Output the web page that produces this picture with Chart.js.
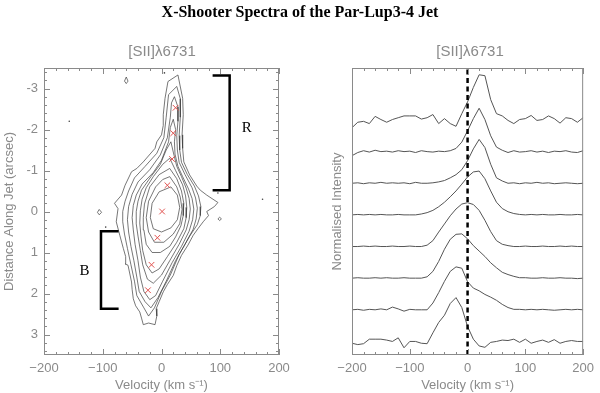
<!DOCTYPE html>
<html>
<head>
<meta charset="utf-8">
<script src="https://cdn.jsdelivr.net/npm/chart.js@4.4.1/dist/chart.umd.min.js"></script>
<style>
  body { margin: 0; background: #fff; }
  #page { position: relative; width: 600px; height: 393px; overflow: hidden; }
  .panel { position: absolute; top: 0; width: 300px; height: 393px; }
  #main-title { position: absolute; left: 0; top: 3px; width: 600px; text-align: center;
    font: bold 16px "Liberation Serif", "DejaVu Serif", serif; color: #000; }
  .sub { position: absolute; top: 42px; width: 200px; text-align: center;
    font: 15px "Liberation Sans", Arial, sans-serif; color: #8a8a8a; }
</style>
</head>
<body>
<div id="page">
  <div class="panel" style="left:0"><canvas id="contourChart"></canvas></div>
  <div class="panel" style="left:300px"><canvas id="spectraChart"></canvas></div>
  <div id="main-title">X-Shooter Spectra of the Par-Lup3-4 Jet</div>
  <div class="sub" style="left:62px">[SII]λ6731</div>
  <div class="sub" style="left:370px">[SII]λ6731</div>
</div>
<script>
'use strict';

// ---- data ----
const velTicks  = [-200, -100, 0, 100, 200];
const distTicks = [-3, -2, -1, 0, 1, 2, 3];

// knot positions (red crosses)
const knotVel  = [24, 20, 18, 10, 1, -7, -17, -23];
const knotDist = [-2.53, -1.91, -1.28, -0.64, 0.0, 0.64, 1.30, 1.92];

// contour levels, outermost first: [velocity, distance]
const contour9 = [[28,-3.33],[36,-2.76],[37,-2.36],[35,-1.87],[36,-1.54],[38,-1.21],[48,-0.89],[60,-0.62],
  [66,-0.52],[77,-0.40],[96,-0.22],[90,-0.12],[77,0.0],[80,0.1],[71,0.25],[62,0.42],[54,0.58],[45,0.82],
  [34,1.07],[26,1.32],[20,1.56],[10,1.78],[3,1.96],[-4,2.2],[-9,2.37],[-8,2.55],[-11,2.76],[-22,2.72],
  [-31,2.76],[-34,2.6],[-37,2.45],[-44,2.3],[-48,2.13],[-50,1.9],[-51,1.72],[-57,1.31],[-62,1.28],
  [-61,1.1],[-65,0.90],[-71,0.58],[-77,0.25],[-74,-0.07],[-80,-0.2],[-68,-0.40],[-62,-0.64],[-51,-0.97],
  [-42,-1.05],[-31,-1.21],[-11,-1.54],[-8,-1.7],[0,-1.87],[3,-2.1],[3,-2.36],[6,-2.76],[11,-3.17]];
const contour8 = [[26,-3.05],[32,-2.75],[32,-2.3],[30,-1.85],[31,-1.5],[34,-1.2],[44,-0.9],[56,-0.62],
  [63,-0.38],[67,-0.12],[66,0.1],[61,0.32],[48,0.6],[30,1.05],[15,1.55],[0,1.95],[-12,2.35],[-22,2.55],
  [-30,2.35],[-42,2.05],[-46,1.7],[-52,1.3],[-58,0.9],[-63,0.55],[-66,0.25],[-66,0.0],[-62,-0.25],
  [-56,-0.5],[-46,-0.82],[-28,-1.1],[-8,-1.42],[4,-1.8],[8,-2.3],[12,-2.85]];
const contour7 = [[22,-2.8],[28,-2.55],[28,-2.2],[26,-1.85],[27,-1.5],[30,-1.2],[40,-0.9],[52,-0.58],
  [58,-0.33],[61,-0.08],[59,0.18],[54,0.43],[40,0.8],[24,1.2],[8,1.7],[-6,2.1],[-18,2.35],[-28,2.2],
  [-38,1.95],[-42,1.6],[-47,1.2],[-52,0.85],[-56,0.5],[-58,0.2],[-56,-0.12],[-50,-0.42],[-40,-0.72],
  [-20,-1.02],[-2,-1.38],[10,-1.8],[15,-2.3],[17,-2.65]];
const contour6 = [[20,-2.25],[24,-2.0],[22,-1.7],[23,-1.4],[28,-1.1],[36,-0.85],[46,-0.55],[52,-0.32],
  [55,-0.06],[53,0.2],[47,0.48],[34,0.85],[18,1.25],[2,1.7],[-10,2.05],[-20,2.15],[-30,1.95],[-36,1.6],
  [-40,1.2],[-45,0.8],[-48,0.45],[-50,0.15],[-48,-0.15],[-43,-0.4],[-33,-0.67],[-14,-0.95],[0,-1.25],
  [12,-1.7],[15,-2.05]];
const contour5 = [[16,-1.7],[20,-1.45],[26,-1.1],[34,-0.85],[42,-0.57],[47,-0.32],[49,-0.06],[47,0.2],
  [42,0.45],[30,0.8],[14,1.2],[0,1.55],[-14,1.75],[-24,1.65],[-32,1.3],[-36,0.95],[-40,0.6],[-43,0.3],
  [-43,0.0],[-40,-0.25],[-34,-0.52],[-18,-0.85],[-2,-1.15],[8,-1.5]];
const contour4 = [[14,-1.3],[24,-1.0],[36,-0.65],[41,-0.38],[43,-0.1],[42,0.15],[38,0.42],[26,0.75],
  [10,1.1],[-4,1.4],[-16,1.5],[-26,1.3],[-32,0.95],[-35,0.6],[-37,0.28],[-36,-0.02],[-33,-0.3],
  [-26,-0.58],[-14,-0.85],[2,-1.15]];
const contour3 = [[14,-1.05],[26,-0.8],[34,-0.5],[38,-0.2],[37,0.1],[33,0.35],[24,0.62],[14,0.85],
  [-2,1.0],[-16,1.0],[-26,0.8],[-30,0.45],[-31,0.15],[-29,-0.18],[-20,-0.6],[-4,-0.9]];
const contour2 = [[14,-0.85],[26,-0.6],[32,-0.35],[35,-0.05],[31,0.3],[20,0.55],[4,0.75],[-12,0.75],
  [-22,0.5],[-26,0.15],[-22,-0.25],[-10,-0.6],[2,-0.78]];
const contour1 = [[16,-0.6],[27,-0.4],[31,-0.1],[27,0.2],[16,0.4],[0,0.5],[-14,0.42],[-19,0.15],
  [-16,-0.2],[-4,-0.48]];
const blobA = [[-60,-3.28],[-57,-3.18],[-60,-3.12],[-63,-3.18]];
const blobB = [[-106,-0.05],[-102,0.02],[-106,0.08],[-109,0.02]];
const blobC = [[99,0.14],[102,0.18],[99,0.22],[96,0.18]];
const specks = [[-157,-2.2],[172,-0.3],[-95,0.38],[5,-3.38],[96,-0.45]];

// brackets marking red (R) and blue (B) lobes
const bracketR = [[87,-3.32],[116,-3.32],[116,-0.52],[87,-0.52]];
const bracketB = [[-73,0.48],[-103,0.48],[-103,2.37],[-73,2.37]];
const lobeLabels = [['R', 145, -2.03], ['B', -131, 1.46]];

// spectra, -200..200 km/s every 10, normalised to peak; top (R) to bottom (B)
const velocity = [-200,-190,-180,-170,-160,-150,-140,-130,-120,-110,-100,-90,-80,-70,-60,-50,-40,-30,-20,-10,
  0,10,20,30,40,50,60,70,80,90,100,110,120,130,140,150,160,170,180,190,200];
const spec1 = [-0.17,-0.05,-0.03,-0.08,0.08,0.01,-0.05,0.01,0.05,0.09,0.09,0.09,0.02,0.05,0.12,-0.08,0.03,-0.08,-0.14,0.14,
  0.40,0.72,1.00,0.98,0.45,0.14,0.09,-0.01,-0.08,0.01,0.03,0.10,-0.01,0.01,0.09,0.03,-0.07,0.05,0.03,-0.05,0.05];
const spec2 = [-0.09,-0.02,0.02,-0.01,0.03,0.00,0.01,-0.01,0.02,0.00,0.01,-0.02,0.02,0.00,-0.01,0.01,0.00,0.02,0.07,0.21,
  0.46,0.73,0.96,0.71,0.35,0.10,0.03,-0.02,0.02,-0.01,0.00,0.02,-0.01,0.01,-0.02,0.01,0.00,0.02,-0.01,-0.02,0.02];
const spec3 = [0.00,0.01,-0.01,0.01,0.00,0.02,0.00,0.01,0.00,0.01,-0.01,0.02,0.00,0.00,0.01,0.03,0.06,0.12,0.19,0.30,
  0.50,0.76,0.97,0.79,0.42,0.12,0.05,0.00,0.01,-0.01,0.01,0.00,0.02,0.00,0.01,-0.01,0.00,0.01,0.00,-0.01,0.00];
const spec4 = [0.00,0.01,0.00,0.01,0.00,0.01,0.00,0.00,0.01,0.00,0.00,0.00,0.02,0.05,0.10,0.18,0.28,0.40,0.53,0.68,
  0.84,0.95,0.97,0.80,0.53,0.28,0.14,0.07,0.03,0.01,0.00,0.01,0.00,0.01,0.00,0.00,0.01,0.00,0.00,0.01,0.00];
const spec5 = [0.00,0.00,0.01,0.00,0.01,0.00,0.00,0.01,0.00,0.00,0.01,0.00,0.00,0.03,0.13,0.32,0.50,0.68,0.83,0.94,
  0.97,0.93,0.80,0.58,0.33,0.13,0.05,0.02,0.00,0.00,0.01,0.00,0.00,0.01,0.00,0.00,0.01,0.00,0.01,0.00,0.00];
const spec6 = [0.00,0.01,0.00,0.00,0.01,0.00,0.01,0.00,0.00,0.01,0.00,0.00,0.00,0.03,0.15,0.37,0.64,0.86,0.97,0.98,
  0.87,0.72,0.60,0.48,0.34,0.23,0.13,0.08,0.04,0.01,0.01,0.00,0.00,0.01,0.00,0.00,0.01,0.00,0.00,-0.01,0.00];
const spec7 = [0.00,0.01,-0.01,0.01,0.00,0.02,0.00,0.06,0.02,-0.03,0.01,0.00,0.00,0.00,0.15,0.38,0.63,0.85,0.95,0.92,
  0.62,0.48,0.42,0.34,0.28,0.21,0.12,0.05,0.01,0.01,0.00,0.01,0.00,0.01,0.00,-0.01,0.00,0.01,0.00,0.01,0.00];
const spec8 = [-0.04,-0.07,-0.05,0.05,0.05,0.05,0.03,0.00,0.08,-0.14,0.00,0.00,-0.04,-0.05,0.19,0.42,0.58,0.84,0.97,0.75,
  0.33,0.05,-0.10,-0.13,-0.02,0.00,0.03,0.02,0.05,-0.02,0.05,-0.04,0.00,0.03,-0.02,0.04,-0.04,0.00,0.02,0.00,0.00];
const spectra = [spec1, spec2, spec3, spec4, spec5, spec6, spec7, spec8];
const specStep = 0.7;

// ---- helpers ----
const AXIS_GREY = '#8a8a8a';
const TICK_FONT = { family: '"Liberation Sans", Arial, sans-serif', size: 13 };
const fmtVel = v => (v < 0 ? '\u2212' + Math.abs(v) : String(v));

function pts(arr) { return arr.map(([x, y]) => ({ x, y })); }
function closed(arr) { return pts(arr.concat([arr[0]])); }

function lineSet(data, color, width, extra) {
  return Object.assign({ data, showLine: true, pointRadius: 0, borderColor: color,
    borderWidth: width, fill: false, tension: 0 }, extra || {});
}

function steps(min, max, step) {
  const out = [];
  for (let v = min; v <= max + 1e-9; v += step) out.push(+v.toFixed(3));
  return out;
}

// box + inward tick marks on all sides
const framePlugin = {
  id: 'frame',
  afterDatasetsDraw(chart, args, opts) {
    const { ctx, chartArea: a, scales } = chart;
    ctx.save();
    ctx.strokeStyle = AXIS_GREY;
    ctx.lineWidth = 1;
    ctx.strokeRect(a.left + 0.5, a.top + 0.5, a.width - 1, a.height - 1);
    ctx.beginPath();
    const xs = [[opts.xMinor, 3], [opts.xMajor, 6]];
    xs.forEach(([vals, len]) => (vals || []).forEach(v => {
      const px = Math.round(scales.x.getPixelForValue(v)) + 0.5;
      ctx.moveTo(px, a.bottom); ctx.lineTo(px, a.bottom - len);
      ctx.moveTo(px, a.top); ctx.lineTo(px, a.top + len);
    }));
    const ys = [[opts.yMinor, 3], [opts.yMajor, 6]];
    ys.forEach(([vals, len]) => (vals || []).forEach(v => {
      const py = Math.round(scales.y.getPixelForValue(v)) + 0.5;
      ctx.moveTo(a.left, py); ctx.lineTo(a.left + len, py);
      ctx.moveTo(a.right, py); ctx.lineTo(a.right - len, py);
    }));
    ctx.stroke();
    (opts.labels || []).forEach(([txt, v, d]) => {
      ctx.fillStyle = '#000';
      ctx.font = '15px "Liberation Serif", "DejaVu Serif", serif';
      ctx.textAlign = 'center';
      ctx.textBaseline = 'middle';
      ctx.fillText(txt, scales.x.getPixelForValue(v), scales.y.getPixelForValue(d));
    });
    ctx.restore();
  }
};

function velocityAxis() {
  return {
    type: 'linear', min: -200, max: 200,
    afterBuildTicks: s => { s.ticks = velTicks.map(v => ({ value: v })); },
    afterFit: s => { s.height = 38; },
    grid: { display: false, drawTicks: false },
    border: { display: false },
    ticks: { color: AXIS_GREY, font: TICK_FONT, padding: 6, maxRotation: 0, callback: v => fmtVel(v) },
    title: { display: true, text: 'Velocity (km s\u207B\u00B9)', color: AXIS_GREY, font: TICK_FONT,
      padding: { top: 0, bottom: 0 } },
  };
}

// ---- left panel: position-velocity contours ----
const contourColor = '#3c3c3c';
const contourSets = [contour9, contour8, contour7, contour6, contour5, contour4, contour3, contour2, contour1,
  blobA, blobB, blobC].map(c => lineSet(closed(c), contourColor, 0.7));

new Chart(document.getElementById('contourChart'), {
  type: 'scatter',
  data: {
    datasets: [
      { data: knotVel.map((x, i) => ({ x, y: knotDist[i] })), pointStyle: 'crossRot', pointRadius: 4,
        borderColor: '#e0524f', borderWidth: 1, showLine: false },
      lineSet(pts(bracketR), '#000', 2.5),
      lineSet(pts(bracketB), '#000', 2.5),
      { data: pts(specks), pointRadius: 0.8, backgroundColor: '#444', borderWidth: 0, showLine: false },
      ...contourSets,
    ],
  },
  options: {
    animation: false, responsive: true, maintainAspectRatio: false,
    layout: { padding: { top: 68, right: 21, left: 0, bottom: 0 } },
    plugins: {
      legend: { display: false }, tooltip: { enabled: false },
      frame: { xMajor: velTicks, xMinor: steps(-200, 200, 20), yMajor: distTicks,
        yMinor: steps(-3.4, 3.4, 0.2), labels: lobeLabels },
    },
    scales: {
      x: velocityAxis(),
      y: {
        type: 'linear', reverse: true, min: -3.5, max: 3.5,
        afterBuildTicks: s => { s.ticks = distTicks.map(v => ({ value: v })); },
        afterFit: s => { s.width = 44; },
        grid: { display: false, drawTicks: false },
        border: { display: false },
        ticks: { color: AXIS_GREY, font: TICK_FONT, padding: 6, callback: v => String(v) },
        title: { display: true, text: 'Distance Along Jet (arcsec)', color: AXIS_GREY, font: TICK_FONT,
          padding: { top: 2, bottom: 0 } },
      },
    },
  },
  plugins: [framePlugin],
});

// ---- right panel: stacked spectra ----
const specSets = spectra.map((s, i) => {
  const off = (spectra.length - 1 - i) * specStep;
  return lineSet(velocity.map((v, j) => ({ x: v, y: s[j] + off })), '#555', 1);
});

new Chart(document.getElementById('spectraChart'), {
  type: 'scatter',
  data: {
    datasets: [
      lineSet([{ x: 0, y: -0.3 }, { x: 0, y: 6.05 }], '#000', 2.5, { borderDash: [5, 3.5] }),
      ...specSets,
    ],
  },
  options: {
    animation: false, responsive: true, maintainAspectRatio: false,
    layout: { padding: { top: 68, right: 13, left: 0, bottom: 0 } },
    plugins: {
      legend: { display: false }, tooltip: { enabled: false },
      frame: { xMajor: velTicks, xMinor: steps(-200, 200, 20) },
    },
    scales: {
      x: velocityAxis(),
      y: {
        type: 'linear', min: -0.3, max: 6.05,
        afterFit: s => { s.width = 52; },
        grid: { display: false, drawTicks: false },
        border: { display: false },
        ticks: { display: false },
        title: { display: true, text: 'Normalised Intensity', color: AXIS_GREY, font: TICK_FONT,
          padding: { top: 30, bottom: 0 } },
      },
    },
  },
  plugins: [framePlugin],
});
</script>
</body>
</html>
